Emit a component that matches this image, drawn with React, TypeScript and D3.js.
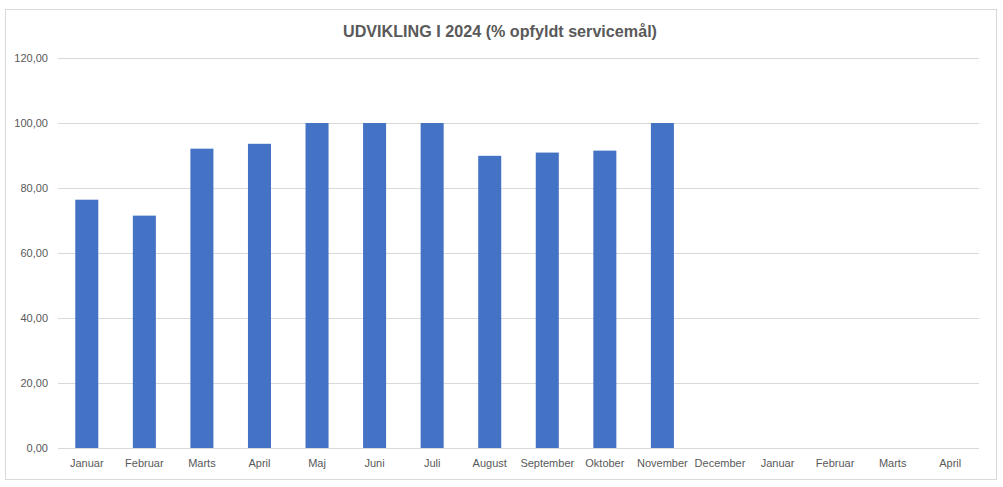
import React from "react";
import * as d3 from "d3";

const categories = ["Januar","Februar","Marts","April","Maj","Juni","Juli","August","September","Oktober","November","December","Januar ","Februar ","Marts ","April "];
const labels = ["Januar","Februar","Marts","April","Maj","Juni","Juli","August","September","Oktober","November","December","Januar","Februar","Marts","April"];
const values: (number | null)[] = [76.4, 71.5, 92.1, 93.6, 100, 100, 100, 89.9, 90.9, 91.5, 100, null, null, null, null, null];
const yTicks = [0, 20, 40, 60, 80, 100, 120];
const title = "UDVIKLING I 2024 (% opfyldt servicemål)";

export default function App() {
  const W = 1003, H = 487;
  const left = 58, right = 979, top = 58, bottom = 448;
  const x = d3.scaleBand<string>().domain(categories).range([left, right]).paddingInner(0.6).paddingOuter(0.3);
  const y = d3.scaleLinear().domain([0, 120]).range([bottom, top]);
  const fmt = (v: number) => v.toFixed(2).replace(".", ",");
  const font = "'Liberation Sans', Arial, sans-serif";
  return (
    <svg width={W} height={H} style={{ position: "absolute", left: 0, top: 0 }}>
      <rect x={0} y={0} width={W} height={H} fill="#fff" />
      <rect x={5.5} y={9.5} width={991} height={470} fill="#fff" stroke="#d9d9d9" />
      <text x={500} y={37} textAnchor="middle" fontFamily={font} fontWeight="bold" fontSize={17} fill="#595959" textLength={314} lengthAdjust="spacingAndGlyphs">{title}</text>
      {yTicks.map(t => (
        <g key={t}>
          <line x1={left} x2={right} y1={Math.round(y(t)) + 0.5} y2={Math.round(y(t)) + 0.5} stroke="#d9d9d9" strokeWidth={1} />
          <text x={48} y={y(t) + 4} textAnchor="end" fontFamily={font} fontSize={11} fill="#595959">{fmt(t)}</text>
        </g>
      ))}
      {categories.map((c, i) => values[i] == null ? null : (
        <rect key={c} x={x(c)!} y={y(values[i] as number)} width={x.bandwidth()} height={bottom - y(values[i] as number)} fill="#4472C4" />
      ))}
      {categories.map((c, i) => (
        <text key={"l" + c} x={x(c)! + x.bandwidth() / 2} y={467} textAnchor="middle" fontFamily={font} fontSize={11} fill="#595959">{labels[i]}</text>
      ))}
    </svg>
  );
}
